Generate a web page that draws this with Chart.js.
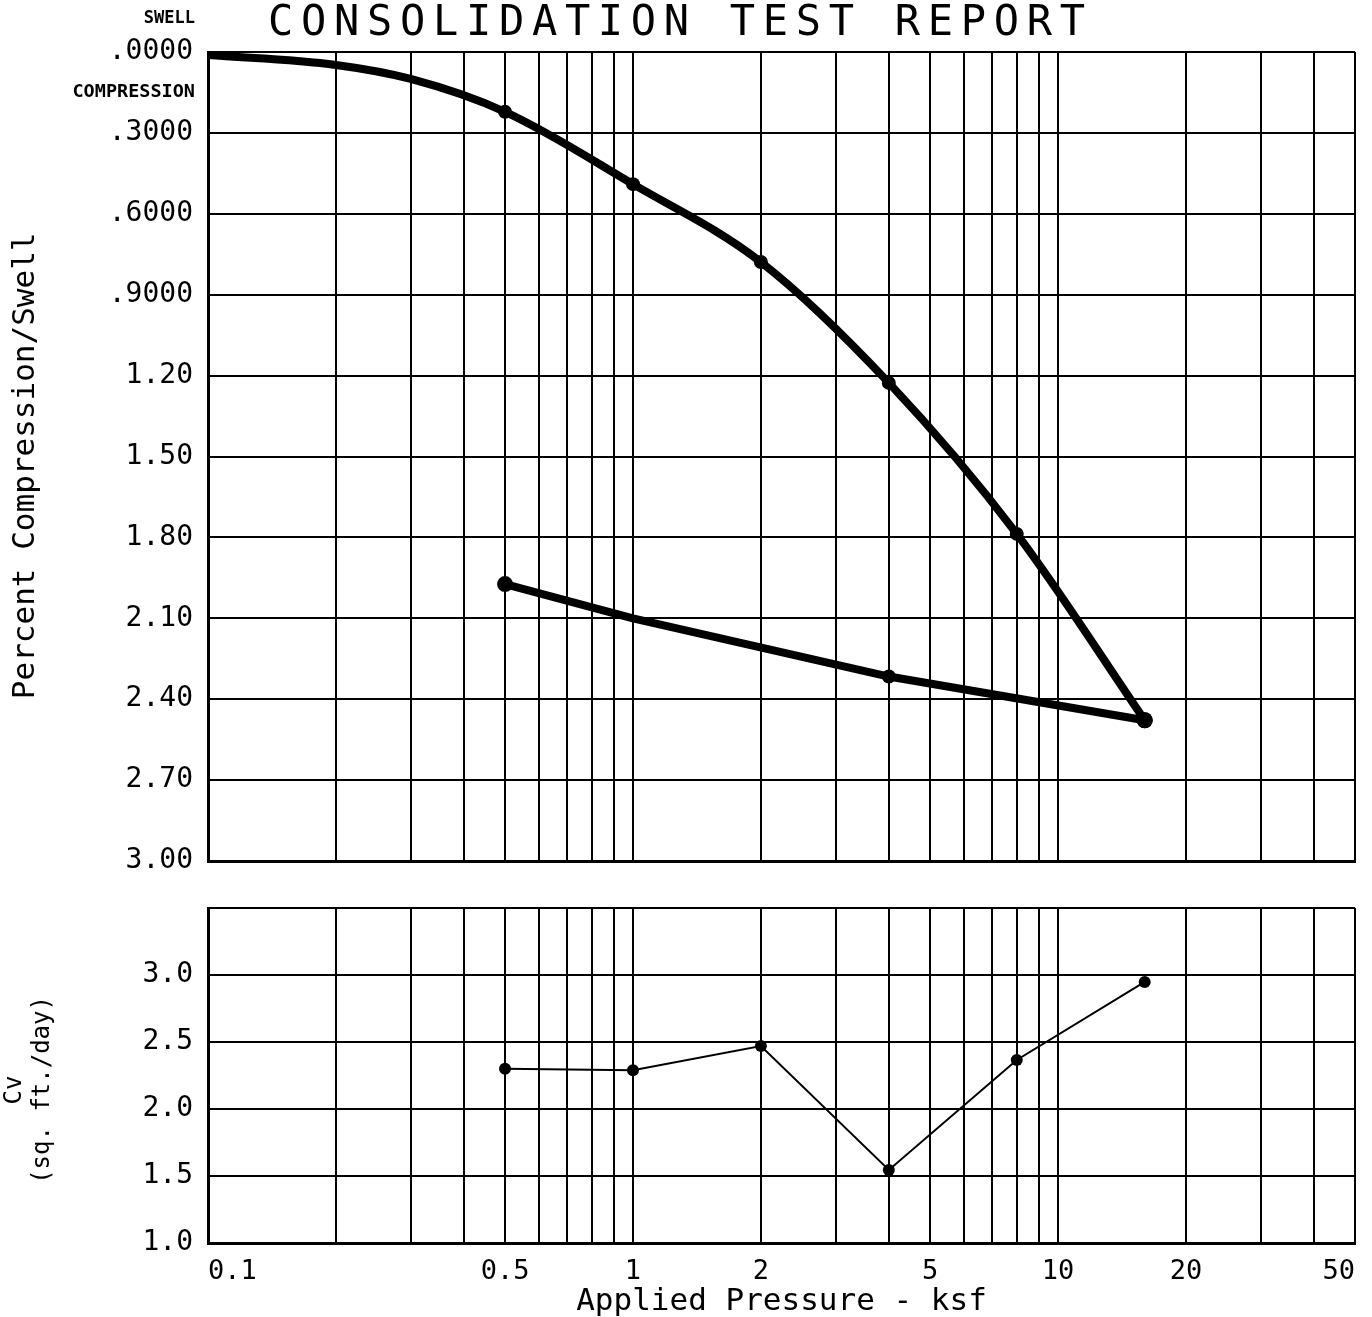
<!DOCTYPE html>
<html>
<head>
<meta charset="utf-8">
<title>Consolidation Test Report</title>
<script src="https://cdn.jsdelivr.net/npm/chart.js@4.4.1/dist/chart.umd.min.js"></script>
<style>
  body { margin: 0; background: #fff; width: 1372px; height: 1317px; position: relative; overflow: hidden; }
  canvas { position: absolute; left: 0; }
  #topChart { top: 0; }
  #cvChart { top: 880px; }
  .txt { position: absolute; font-family: "DejaVu Sans Mono", monospace; color: #000; white-space: nowrap; }
  #title { left: 268px; top: 0; font-size: 42px; line-height: 42px; letter-spacing: 7.7px; }
  #swell { right: 1177px; top: 9px; font-size: 17px; line-height: 17px; font-weight: bold; }
  #compression { right: 1177px; top: 81px; font-size: 18.5px; line-height: 19px; font-weight: bold; }
</style>
</head>
<body>
<canvas id="topChart" width="1372" height="880"></canvas>
<canvas id="cvChart" width="1372" height="437"></canvas>
<div class="txt" id="title">CONSOLIDATION TEST REPORT</div>
<div class="txt" id="swell">SWELL</div>
<div class="txt" id="compression">COMPRESSION</div>
<script>
// pressure axis (ksf), log scale
const gridPressures = [0.1, 0.2, 0.3, 0.4, 0.5, 0.6, 0.7, 0.8, 0.9,
  1, 2, 3, 4, 5, 6, 7, 8, 9, 10, 20, 30, 40, 50];
const labeledPressures = [0.1, 0.5, 1, 2, 5, 10, 20, 50];

// percent compression / swell
const compressionTicks = [0, 0.3, 0.6, 0.9, 1.2, 1.5, 1.8, 2.1, 2.4, 2.7, 3.0];
const compressionTickLabels = ['.0000', '.3000', '.6000', '.9000', '1.20', '1.50',
  '1.80', '2.10', '2.40', '2.70', '3.00'];

const loadPressures = [0.1, 0.2, 0.3, 0.5, 1, 2, 4, 8, 16];
const loadCompression = [0.011, 0.048, 0.10, 0.222, 0.49, 0.779, 1.227, 1.787, 2.478];
const loadMarkers = [0, 0, 0, 7, 7, 7, 7, 7, 8];

const unloadPressures = [16, 4, 1, 0.5];
const unloadCompression = [2.478, 2.316, 2.10, 1.973];
const unloadMarkers = [8, 7, 0, 8];

// Cv, sq. ft./day
const cvTicks = [1.0, 1.5, 2.0, 2.5, 3.0, 3.5];
const cvTickLabels = ['1.0', '1.5', '2.0', '2.5', '3.0', ''];
const cvPressures = [0.5, 1, 2, 4, 8, 16];
const cvValues = [2.30, 2.29, 2.47, 1.545, 2.366, 2.948];

const FONT = 'DejaVu Sans Mono';
Chart.defaults.font.family = FONT;
Chart.defaults.color = '#000';

const toPoints = (xs, ys) => xs.map((x, i) => ({x: x, y: ys[i]}));

// keep the layout padding in charge of where the plot box sits
function noLabelOverflow(s) {
  s.paddingTop = 0;
  s.paddingBottom = 0;
  s.paddingLeft = 0;
  s.paddingRight = 0;
}

function pressureAxis(showLabels) {
  return {
    type: 'logarithmic',
    min: 0.1,
    max: 50,
    afterBuildTicks: s => { s.ticks = gridPressures.map(v => ({value: v})); },
    afterFit: s => { s.height = showLabels ? 74 : 0; noLabelOverflow(s); },
    grid: { color: '#000', lineWidth: 2, drawTicks: false },
    border: { color: '#000', width: 3 },
    ticks: {
      display: showLabels,
      autoSkip: false,
      maxRotation: 0,
      align: 'inner',
      padding: 13,
      font: { size: 27 },
      callback: v => labeledPressures.includes(v) ? String(v) : ''
    },
    title: {
      display: showLabels,
      text: 'Applied Pressure - ksf',
      font: { size: 31, lineHeight: 1.0 },
      padding: { top: 0, bottom: 0 }
    }
  };
}

const thickLine = {
  borderColor: '#000',
  backgroundColor: '#000',
  borderWidth: 8,
  borderCapStyle: 'round',
  borderJoinStyle: 'round',
  pointBorderWidth: 0,
  fill: false
};

new Chart(document.getElementById('topChart'), {
  type: 'line',
  data: {
    datasets: [
      Object.assign({
        label: 'Loading',
        data: toPoints(loadPressures, loadCompression),
        pointRadius: loadMarkers,
        cubicInterpolationMode: 'monotone'
      }, thickLine),
      Object.assign({
        label: 'Unloading',
        data: toPoints(unloadPressures, unloadCompression),
        pointRadius: unloadMarkers,
        tension: 0
      }, thickLine)
    ]
  },
  options: {
    responsive: false,
    animation: false,
    layout: { padding: { left: 0, right: 17, top: 52, bottom: 19 } },
    plugins: { legend: { display: false }, tooltip: { enabled: false } },
    scales: {
      x: pressureAxis(false),
      y: {
        reverse: true,
        min: 0,
        max: 3,
        afterBuildTicks: s => { s.ticks = compressionTicks.map(v => ({value: v})); },
        afterFit: s => { s.width = 208; noLabelOverflow(s); },
        grid: { color: '#000', lineWidth: 2, drawTicks: false },
        border: { color: '#000', width: 3 },
        ticks: {
          padding: 15,
          font: { size: 28 },
          callback: (v, i) => compressionTickLabels[i]
        },
        title: {
          display: true,
          text: 'Percent Compression/Swell ',
          font: { size: 31, lineHeight: 1.2 },
          padding: { top: 7, bottom: 0 }
        }
      }
    }
  }
});

new Chart(document.getElementById('cvChart'), {
  type: 'line',
  data: {
    datasets: [{
      label: 'Cv',
      data: toPoints(cvPressures, cvValues),
      borderColor: '#000',
      backgroundColor: '#000',
      borderWidth: 2,
      pointRadius: 6,
      pointBorderWidth: 0,
      tension: 0,
      fill: false
    }]
  },
  options: {
    responsive: false,
    animation: false,
    layout: { padding: { left: 0, right: 17, top: 28, bottom: 0 } },
    plugins: { legend: { display: false }, tooltip: { enabled: false } },
    scales: {
      x: pressureAxis(true),
      y: {
        min: 1,
        max: 3.5,
        afterBuildTicks: s => { s.ticks = cvTicks.map(v => ({value: v})); },
        afterFit: s => { s.width = 208; noLabelOverflow(s); },
        grid: { color: '#000', lineWidth: 2, drawTicks: false },
        border: { color: '#000', width: 3 },
        ticks: {
          padding: 15,
          font: { size: 28 },
          callback: (v, i) => cvTickLabels[i]
        },
        title: {
          display: true,
          text: ['Cv  ', '(sq. ft./day)  '],
          font: { size: 24, lineHeight: 1.2 },
          padding: { top: 0, bottom: 0 }
        }
      }
    }
  }
});
</script>
</body>
</html>
